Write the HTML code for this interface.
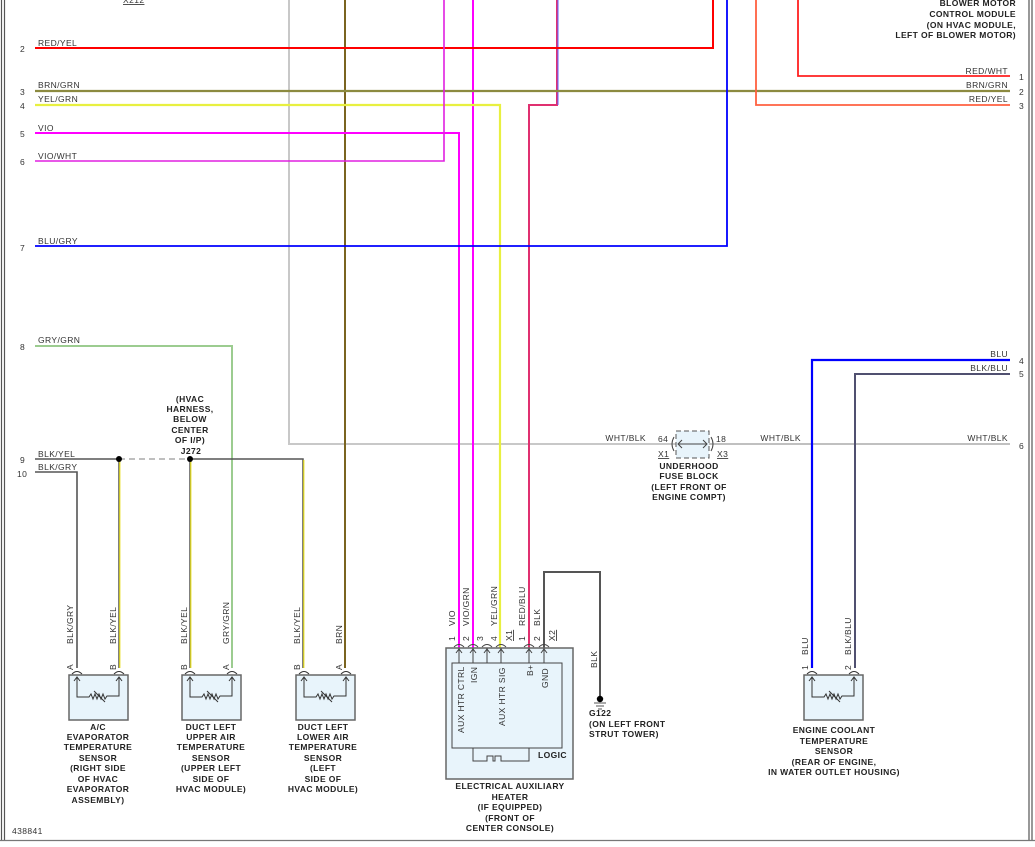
<!DOCTYPE html>
<html><head><meta charset="utf-8"><style>
html,body{margin:0;padding:0;background:#fff}
svg{display:block}
text{font-family:"Liberation Sans",sans-serif;font-size:8.5px;fill:#333;letter-spacing:0.4px}
.b{font-weight:bold;fill:#222}
</style></head><body>
<svg width="1035" height="847" viewBox="0 0 1035 847" xmlns="http://www.w3.org/2000/svg">
<defs>
<g id="sens">
<rect x="0" y="0" width="59" height="45" fill="#e8f4fb" stroke="#666" stroke-width="1.5"/>
<path d="M8,3 V22 H20 l2,-3 2,5 2,-5 2,5 2,-5 2,5 2,-5 2,5 2,-3 H50 V3" fill="none" stroke="#333" stroke-width="1"/>
<path d="M25,16 L36,27" stroke="#333" stroke-width="1"/>
<path d="M5,6 L8,2 L11,6 M47,6 L50,2 L53,6" fill="none" stroke="#333" stroke-width="1"/>
<path d="M3,-1 Q8,-6 13,-1 M45,-1 Q50,-6 55,-1" fill="none" stroke="#333" stroke-width="1"/>
</g>
</defs>
<!-- borders -->
<path d="M1.5,0 V840 M4.5,0 V840" stroke="#555" stroke-width="1.2"/>
<path d="M1029,0 V840 M1032,0 V840" stroke="#555" stroke-width="1.2"/>
<path d="M0,840.5 H1035" stroke="#777" stroke-width="1.2"/>

<!-- verticals from top -->
<path d="M289,0 V444 H676" fill="none" stroke="#c8c8c8" stroke-width="2"/>
<path d="M345,0 V668" fill="none" stroke="#7a6420" stroke-width="2"/>
<path d="M473,0 V648" fill="none" stroke="#ff00ff" stroke-width="2"/>
<path d="M557,0 V105 H529 V648" fill="none" stroke="#e03070" stroke-width="2"/>
<path d="M558,0 V105" fill="none" stroke="#6060ff" stroke-width="1"/>
<!-- left horizontals -->
<path d="M35,48 H713 V0" fill="none" stroke="#ff0000" stroke-width="2"/>
<path d="M35,91 H1010" fill="none" stroke="#8c8a40" stroke-width="2.2"/>
<path d="M35,105 H500 V648" fill="none" stroke="#e8f040" stroke-width="2.2"/>
<path d="M35,133 H459 V648" fill="none" stroke="#ff00ff" stroke-width="2"/>
<path d="M35,161 H444 V0" fill="none" stroke="#e020e0" stroke-width="1.6"/>
<path d="M35,246 H727 V0" fill="none" stroke="#0000ff" stroke-width="1.8"/>
<path d="M35,346 H232 V668" fill="none" stroke="#9ccc90" stroke-width="2"/>
<path d="M35,459 H119" fill="none" stroke="#555" stroke-width="1.5"/>
<path d="M119,459 H190" fill="none" stroke="#999" stroke-width="1.3" stroke-dasharray="6,4"/>
<path d="M190,459 H303 V668" fill="none" stroke="#555" stroke-width="1.5"/>
<path d="M303.8,460 V668" stroke="#e8e020" stroke-width="1.2"/>
<path d="M119,459 V668" stroke="#555" stroke-width="1.5"/>
<path d="M119.8,459 V668" stroke="#e8e020" stroke-width="1.2"/>
<path d="M190,459 V668" stroke="#555" stroke-width="1.5"/>
<path d="M190.8,459 V668" stroke="#e8e020" stroke-width="1.2"/>
<path d="M35,472 H77 V668" fill="none" stroke="#555" stroke-width="1.6"/>
<circle cx="119" cy="459" r="3" fill="#000"/>
<circle cx="190" cy="459" r="3" fill="#000"/>
<!-- right side -->
<path d="M798,0 V76 H1010" fill="none" stroke="#ff2020" stroke-width="1.8"/>
<path d="M756,0 V105 H1010" fill="none" stroke="#ff6040" stroke-width="1.8"/>
<path d="M709,444 H1010" fill="none" stroke="#c0c0c0" stroke-width="2"/>
<path d="M812,668 V360 H1010" fill="none" stroke="#0000ff" stroke-width="2.2"/>
<path d="M855,668 V374 H1010" fill="none" stroke="#505070" stroke-width="2"/>
<!-- ground wire -->
<path d="M544,648 V572 H600 V697" fill="none" stroke="#555" stroke-width="2"/>
<circle cx="600" cy="699" r="3.2" fill="#000"/>
<path d="M594,703 H606 M596,706 H604 M598,709 H602" stroke="#555" stroke-width="1"/>

<!-- left pin numbers & labels -->
<g>
<text x="20" y="52">2</text><text x="38" y="46">RED/YEL</text>
<text x="20" y="95">3</text><text x="38" y="88">BRN/GRN</text>
<text x="20" y="109">4</text><text x="38" y="102">YEL/GRN</text>
<text x="20" y="137">5</text><text x="38" y="131">VIO</text>
<text x="20" y="165">6</text><text x="38" y="159">VIO/WHT</text>
<text x="20" y="251">7</text><text x="38" y="244">BLU/GRY</text>
<text x="20" y="350">8</text><text x="38" y="343">GRY/GRN</text>
<text x="20" y="463">9</text><text x="38" y="457">BLK/YEL</text>
<text x="17" y="477">10</text><text x="38" y="470">BLK/GRY</text>
</g>
<text x="123" y="3" style="text-decoration:underline">X212</text>
<!-- right labels -->
<g text-anchor="end">
<text x="1008" y="74">RED/WHT</text><text x="1008" y="88">BRN/GRN</text><text x="1008" y="102">RED/YEL</text>
<text x="1008" y="357">BLU</text><text x="1008" y="371">BLK/BLU</text><text x="1008" y="441">WHT/BLK</text>
<text x="646" y="441">WHT/BLK</text><text x="801" y="441">WHT/BLK</text>
<text class="b" x="1016" y="6">BLOWER MOTOR</text>
<text class="b" x="1016" y="17">CONTROL MODULE</text>
<text class="b" x="1016" y="28">(ON HVAC MODULE,</text>
<text class="b" x="1016" y="38">LEFT OF BLOWER MOTOR)</text>
</g>
<text x="1019" y="80">1</text><text x="1019" y="95">2</text><text x="1019" y="109">3</text>
<text x="1019" y="364">4</text><text x="1019" y="377">5</text><text x="1019" y="449">6</text>

<!-- J272 label -->
<g class="b" text-anchor="middle">
<text class="b" x="190" y="402">(HVAC</text>
<text class="b" x="190" y="412">HARNESS,</text>
<text class="b" x="190" y="422">BELOW</text>
<text class="b" x="190" y="433">CENTER</text>
<text class="b" x="190" y="443">OF I/P)</text>
<text class="b" x="191" y="454">J272</text>
</g>

<!-- fuse block -->
<rect x="676" y="431" width="33" height="27" fill="#e8f4fb" stroke="#555" stroke-width="1" stroke-dasharray="5,3"/>
<path d="M678,444 H707 M682,440 L678,444 L682,448 M703,440 L707,444 L703,448" fill="none" stroke="#444" stroke-width="1"/>
<path d="M674,437 Q670,444 674,451 M711,437 Q715,444 711,451" fill="none" stroke="#444" stroke-width="1"/>
<text x="658" y="442">64</text><text x="716" y="442">18</text>
<text x="658" y="457" style="text-decoration:underline">X1</text><text x="717" y="457" style="text-decoration:underline">X3</text>
<g text-anchor="middle">
<text class="b" x="689" y="469">UNDERHOOD</text>
<text class="b" x="689" y="479">FUSE BLOCK</text>
<text class="b" x="689" y="490">(LEFT FRONT OF</text>
<text class="b" x="689" y="500">ENGINE COMPT)</text>
</g>

<!-- sensors -->
<use href="#sens" x="69" y="675"/>
<use href="#sens" x="182" y="675"/>
<use href="#sens" x="296" y="675"/>
<use href="#sens" x="804" y="675"/>
<g>
<text transform="translate(73,644) rotate(-90)">BLK/GRY</text>
<text transform="translate(116,644) rotate(-90)">BLK/YEL</text>
<text transform="translate(187,644) rotate(-90)">BLK/YEL</text>
<text transform="translate(229,644) rotate(-90)">GRY/GRN</text>
<text transform="translate(300,644) rotate(-90)">BLK/YEL</text>
<text transform="translate(342,644) rotate(-90)">BRN</text>
<text transform="translate(808,655) rotate(-90)">BLU</text>
<text transform="translate(851,655) rotate(-90)">BLK/BLU</text>
<text transform="translate(73,670) rotate(-90)">A</text>
<text transform="translate(116,670) rotate(-90)">B</text>
<text transform="translate(187,670) rotate(-90)">B</text>
<text transform="translate(229,670) rotate(-90)">A</text>
<text transform="translate(300,670) rotate(-90)">B</text>
<text transform="translate(342,670) rotate(-90)">A</text>
<text transform="translate(808,670) rotate(-90)">1</text>
<text transform="translate(851,670) rotate(-90)">2</text>
</g>
<g text-anchor="middle">
<text class="b" x="98" y="730">A/C</text>
<text class="b" x="98" y="740">EVAPORATOR</text>
<text class="b" x="98" y="750">TEMPERATURE</text>
<text class="b" x="98" y="761">SENSOR</text>
<text class="b" x="98" y="771">(RIGHT SIDE</text>
<text class="b" x="98" y="782">OF HVAC</text>
<text class="b" x="98" y="792">EVAPORATOR</text>
<text class="b" x="98" y="803">ASSEMBLY)</text>
<text class="b" x="211" y="730">DUCT LEFT</text>
<text class="b" x="211" y="740">UPPER AIR</text>
<text class="b" x="211" y="750">TEMPERATURE</text>
<text class="b" x="211" y="761">SENSOR</text>
<text class="b" x="211" y="771">(UPPER LEFT</text>
<text class="b" x="211" y="782">SIDE OF</text>
<text class="b" x="211" y="792">HVAC MODULE)</text>
<text class="b" x="323" y="730">DUCT LEFT</text>
<text class="b" x="323" y="740">LOWER AIR</text>
<text class="b" x="323" y="750">TEMPERATURE</text>
<text class="b" x="323" y="761">SENSOR</text>
<text class="b" x="323" y="771">(LEFT</text>
<text class="b" x="323" y="782">SIDE OF</text>
<text class="b" x="323" y="792">HVAC MODULE)</text>
<text class="b" x="834" y="733">ENGINE COOLANT</text>
<text class="b" x="834" y="744">TEMPERATURE</text>
<text class="b" x="834" y="754">SENSOR</text>
<text class="b" x="834" y="765">(REAR OF ENGINE,</text>
<text class="b" x="834" y="775">IN WATER OUTLET HOUSING)</text>
<text class="b" x="510" y="789">ELECTRICAL AUXILIARY</text>
<text class="b" x="510" y="800">HEATER</text>
<text class="b" x="510" y="810">(IF EQUIPPED)</text>
<text class="b" x="510" y="821">(FRONT OF</text>
<text class="b" x="510" y="831">CENTER CONSOLE)</text>
</g>

<!-- heater -->
<rect x="446" y="648" width="127" height="131" fill="#e8f4fb" stroke="#666" stroke-width="1.5"/>
<rect x="452" y="663" width="110" height="85" fill="#e8f4fb" stroke="#444" stroke-width="1"/>
<path d="M473,748 V761 H487 V756 H493 V761 H495 V756 H501 V761 H529 V748" fill="none" stroke="#444" stroke-width="1"/>
<text class="b" x="538" y="758">LOGIC</text>
<g stroke="#444" stroke-width="1" fill="none">
<path d="M459,648 V663 M473,648 V663 M487,648 V663 M501,648 V663 M529,648 V663 M544,648 V663"/>
<path d="M456,653 L459,649 L462,653 M470,653 L473,649 L476,653 M484,653 L487,649 L490,653 M498,653 L501,649 L504,653 M526,653 L529,649 L532,653 M541,653 L544,649 L547,653"/>
<path d="M454,647 Q459,642 464,647 M468,647 Q473,642 478,647 M482,647 Q487,642 492,647 M496,647 Q501,642 506,647 M524,647 Q529,642 534,647 M539,647 Q544,642 549,647"/>
</g>
<g>
<text transform="translate(464,733) rotate(-90)">AUX HTR CTRL</text>
<text transform="translate(477,683) rotate(-90)">IGN</text>
<text transform="translate(505,726) rotate(-90)">AUX HTR SIG</text>
<text transform="translate(533,676) rotate(-90)">B+</text>
<text transform="translate(548,688) rotate(-90)">GND</text>
<text transform="translate(455,626) rotate(-90)">VIO</text>
<text transform="translate(469,626) rotate(-90)">VIO/GRN</text>
<text transform="translate(497,626) rotate(-90)">YEL/GRN</text>
<text transform="translate(525,626) rotate(-90)">RED/BLU</text>
<text transform="translate(540,626) rotate(-90)">BLK</text>
<text transform="translate(597,668) rotate(-90)">BLK</text>
<text transform="translate(455,641) rotate(-90)">1</text>
<text transform="translate(469,641) rotate(-90)">2</text>
<text transform="translate(483,641) rotate(-90)">3</text>
<text transform="translate(497,641) rotate(-90)">4</text>
<text transform="translate(525,641) rotate(-90)">1</text>
<text transform="translate(540,641) rotate(-90)">2</text>
<text transform="translate(512,641) rotate(-90)" style="text-decoration:underline">X1</text>
<text transform="translate(555,641) rotate(-90)" style="text-decoration:underline">X2</text>
</g>
<text class="b" x="589" y="716">G122</text>
<text class="b" x="589" y="727">(ON LEFT FRONT</text>
<text class="b" x="589" y="737">STRUT TOWER)</text>
<text x="12" y="834">438841</text>
</svg>
</body></html>
